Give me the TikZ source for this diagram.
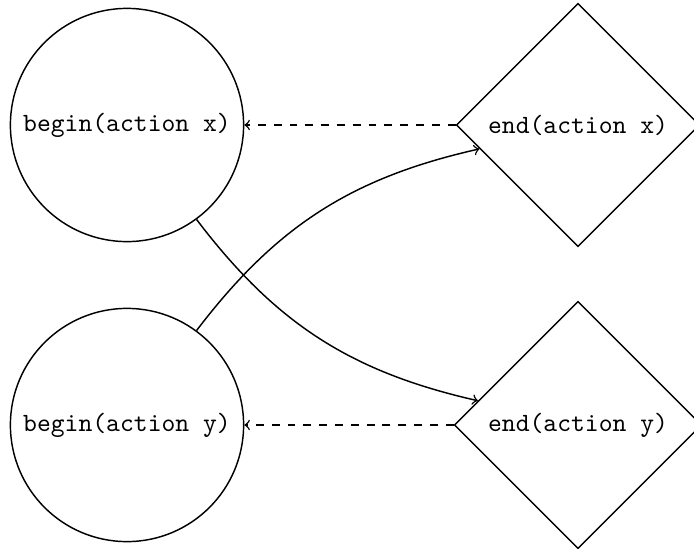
\documentclass[tikz,border=0pt]{standalone}
\usetikzlibrary{shapes.geometric}
\begin{document}
\begin{tikzpicture}[x=0.3795pt,y=-0.3795pt,line width=0.55pt,
  beginnode/.style={circle,draw,font=\ttfamily,minimum size=88.5pt,inner sep=1pt},
  endnode/.style={diamond,draw,font=\ttfamily,aspect=1,inner sep=4.1pt},
  back/.style={->,dashed},
  fwd/.style={->}]
\useasboundingbox (0,0) rectangle (694,548);
\node[beginnode] (bx) at (127,125) {begin(action x)};
\node[beginnode] (by) at (127,425) {begin(action y)};
\node[endnode] (ex) at (578,125) {end(action x)};
\node[endnode] (ey) at (578,425) {end(action y)};
\draw[back] (ex) -- (bx);
\draw[back] (ey) -- (by);
\draw[fwd] (bx) to[bend right=20] (ey);
\draw[fwd] (by) to[bend left=20] (ex);
\end{tikzpicture}
\end{document}
